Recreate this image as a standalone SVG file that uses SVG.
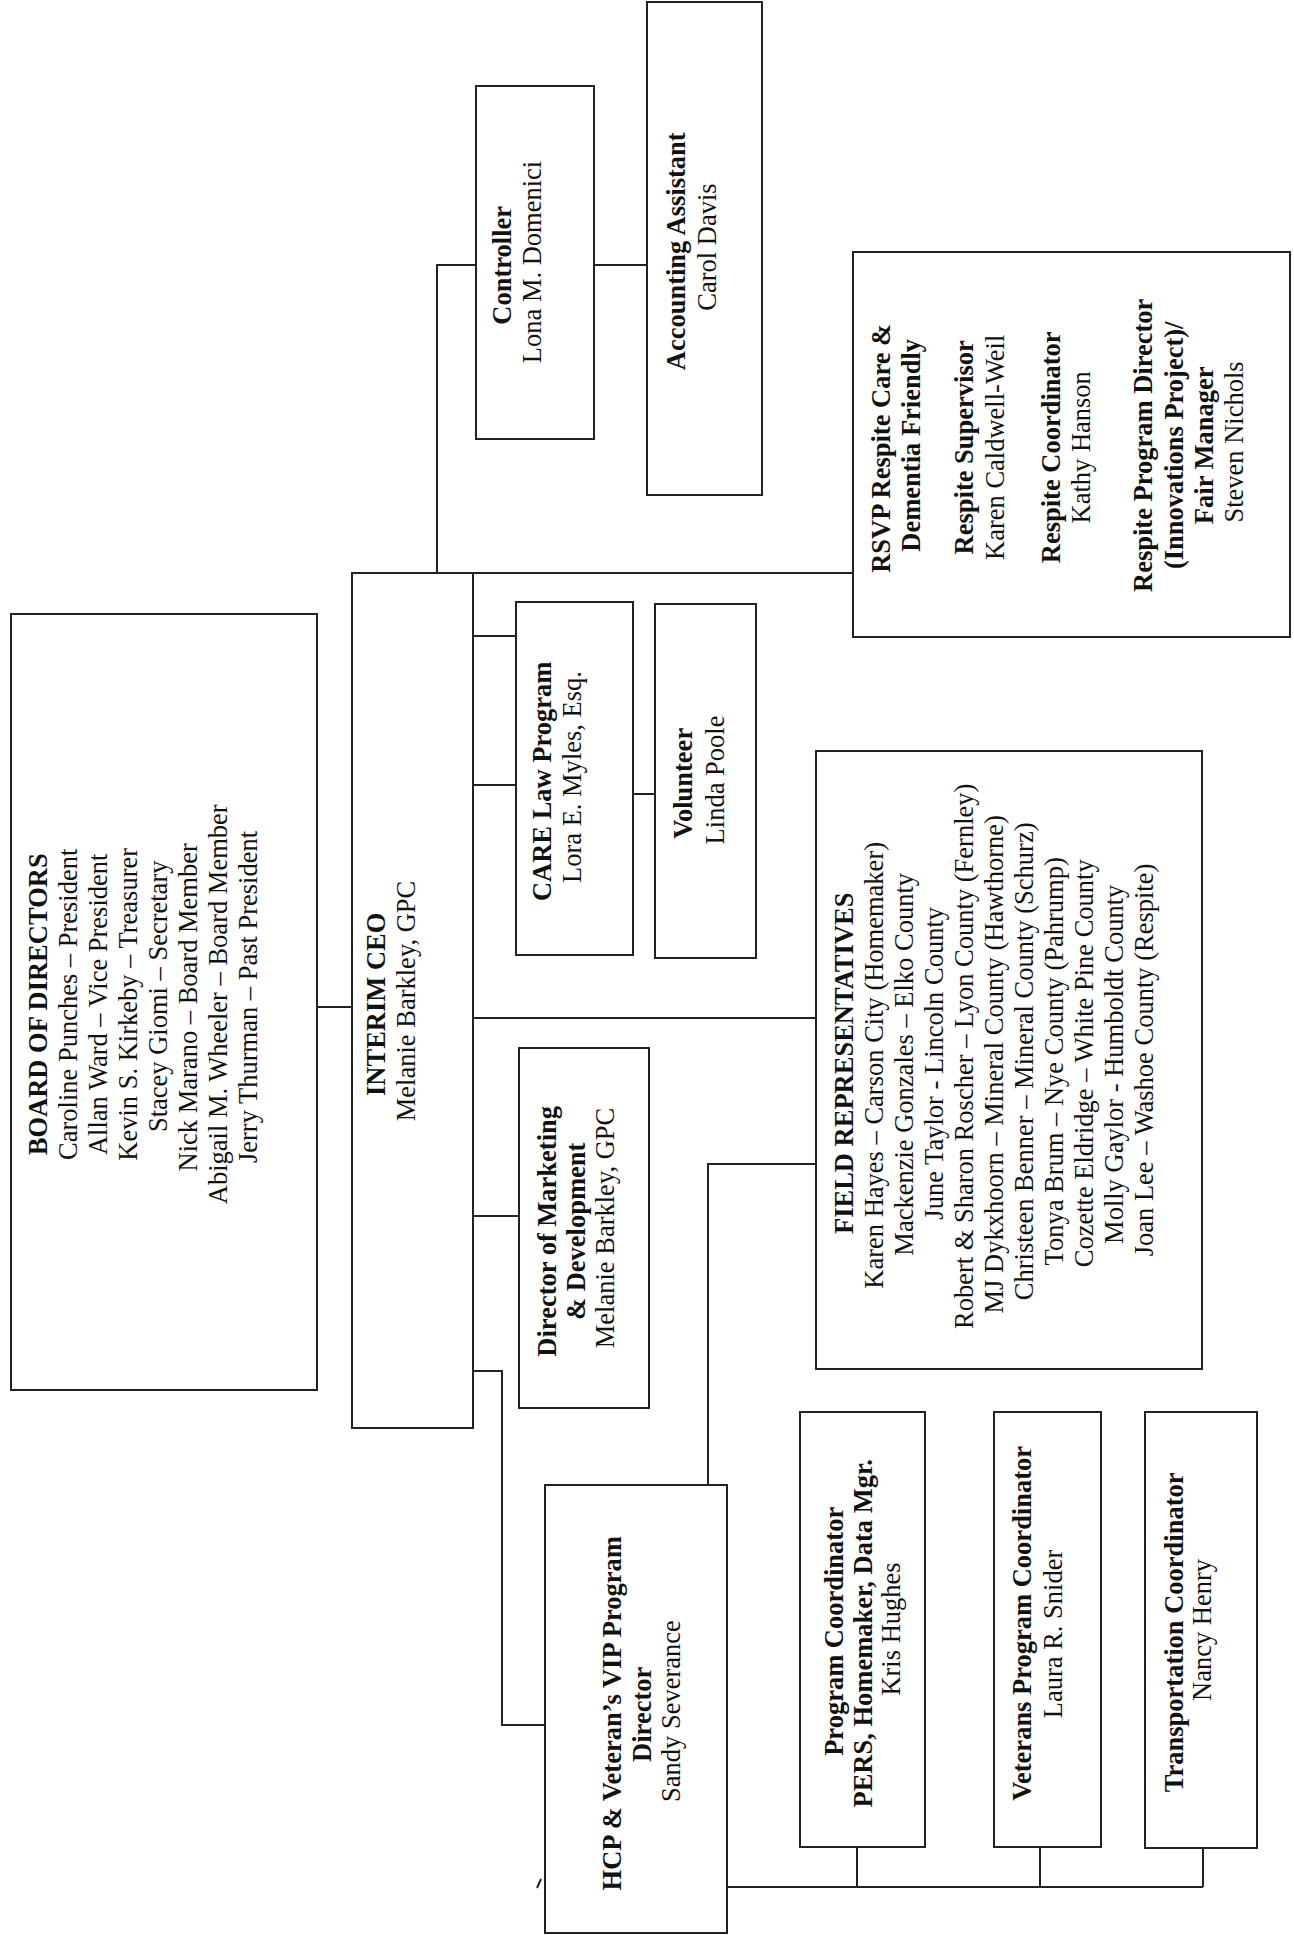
<svg xmlns="http://www.w3.org/2000/svg" width="1294" height="1935" viewBox="0 0 1294 1935">
<style>
.box{fill:#fff;stroke:#222;stroke-width:2}
.con{fill:none;stroke:#222;stroke-width:2}
text{font-family:"Liberation Serif","Times New Roman",serif;font-size:26.5px;fill:#111;text-anchor:middle}
.b{font-weight:bold}
</style>
<rect width="1294" height="1935" fill="#fff"/>
<g id="connectors">
<path class="con" d="M317 1007H352"/>
<path class="con" d="M437 573V265H476"/>
<path class="con" d="M594 265H647"/>
<path class="con" d="M473 573H853"/>
<path class="con" d="M473 636H516"/>
<path class="con" d="M473 785H516"/>
<path class="con" d="M633 794H655"/>
<path class="con" d="M473 1018H816"/>
<path class="con" d="M473 1216H519"/>
<path class="con" d="M473 1371H502V1725H545"/>
<path class="con" d="M816 1164H708V1485"/>
<path class="con" d="M727 1887H1203"/>
<path class="con" d="M857 1847V1887"/>
<path class="con" d="M1040 1847V1887"/>
<path class="con" d="M1203 1848V1887"/>
<path class="con" d="M541 1879L537 1888"/>
</g>
<g id="bod">
<rect class="box" x="11" y="614" width="306" height="776"/>
<text transform="rotate(-90)">
<tspan class="b" x="-1001" y="47">BOARD OF DIRECTORS</tspan>
<tspan x="-1001" y="77">Caroline Punches – President</tspan>
<tspan x="-1001" y="107">Allan Ward  – Vice President</tspan>
<tspan x="-1001" y="137">Kevin S. Kirkeby – Treasurer</tspan>
<tspan x="-993" y="167">Stacey Giomi  – Secretary</tspan>
<tspan x="-1004" y="197">Nick Marano – Board Member</tspan>
<tspan x="-1001" y="227">Abigail M. Wheeler – Board Member</tspan>
<tspan x="-997" y="257">Jerry Thurman – Past President</tspan>
</text>
</g>
<g id="ceo">
<rect class="box" x="352" y="573" width="121" height="855"/>
<text transform="rotate(-90)">
<tspan class="b" x="-1001" y="385">INTERIM CEO</tspan>
<tspan x="-1001" y="415">Melanie Barkley, GPC</tspan>
</text>
</g>
<g id="controller">
<rect class="box" x="476" y="86" width="118" height="353"/>
<text transform="rotate(-90)">
<tspan class="b" x="-262" y="511">Controller</tspan>
<tspan x="-262" y="541">Lona M. Domenici</tspan>
</text>
</g>
<g id="accounting">
<rect class="box" x="647" y="2" width="115" height="493"/>
<text transform="rotate(-90)">
<tspan class="b" x="-248" y="685">Accounting Assistant</tspan>
<tspan x="-247" y="716">Carol Davis</tspan>
</text>
</g>
<g id="rsvp">
<rect class="box" x="853" y="252" width="437" height="385"/>
<text transform="rotate(-90)">
<tspan class="b" x="-445" y="890">RSVP Respite Care &amp;</tspan>
<tspan class="b" x="-442" y="920">Dementia Friendly</tspan>
<tspan class="b" x="-444" y="973">Respite Supervisor</tspan>
<tspan x="-444" y="1004">Karen Caldwell-Weil</tspan>
<tspan class="b" x="-444" y="1060">Respite Coordinator</tspan>
<tspan x="-444" y="1090">Kathy Hanson</tspan>
<tspan class="b" x="-442" y="1152">Respite Program Director</tspan>
<tspan class="b" x="-442" y="1183">(Innovations Project)/</tspan>
<tspan class="b" x="-442" y="1213">Fair Manager</tspan>
<tspan x="-442" y="1243">Steven Nichols</tspan>
</text>
</g>
<g id="care">
<rect class="box" x="516" y="602" width="117" height="353"/>
<text transform="rotate(-90)">
<tspan class="b" x="-778" y="551">CARE Law Program</tspan>
<tspan x="-777" y="581">Lora E. Myles, Esq.</tspan>
</text>
</g>
<g id="volunteer">
<rect class="box" x="655" y="604" width="101" height="354"/>
<text transform="rotate(-90)">
<tspan class="b" x="-780" y="692">Volunteer</tspan>
<tspan x="-780" y="724">Linda Poole</tspan>
</text>
</g>
<g id="marketing">
<rect class="box" x="519" y="1048" width="130" height="360"/>
<text transform="rotate(-90)">
<tspan class="b" x="-1228" y="556">Director of Marketing</tspan>
<tspan class="b" x="-1228" y="585">&amp; Development</tspan>
<tspan x="-1228" y="614">Melanie Barkley, GPC</tspan>
</text>
</g>
<g id="field">
<rect class="box" x="816" y="751" width="386" height="618"/>
<text transform="rotate(-90)">
<tspan class="b" x="-1060" y="853">FIELD REPRESENTATIVES</tspan>
<tspan x="-1062" y="883">Karen Hayes – Carson City (Homemaker)</tspan>
<tspan x="-1061" y="913">Mackenzie Gonzales – Elko County</tspan>
<tspan x="-1060" y="943">June Taylor - Lincoln County</tspan>
<tspan x="-1053" y="973">Robert &amp; Sharon Roscher – Lyon County (Fernley)</tspan>
<tspan x="-1061" y="1003">MJ Dykxhoorn – Mineral County (Hawthorne)</tspan>
<tspan x="-1058" y="1033">Christeen Benner – Mineral County (Schurz)</tspan>
<tspan x="-1058" y="1063">Tonya Brum – Nye County (Pahrump)</tspan>
<tspan x="-1060" y="1093">Cozette Eldridge – White Pine County</tspan>
<tspan x="-1061" y="1123">Molly Gaylor - Humboldt County</tspan>
<tspan x="-1060" y="1153">Joan Lee – Washoe County (Respite)</tspan>
</text>
</g>
<g id="hcp">
<rect class="box" x="545" y="1485" width="182" height="448"/>
<text transform="rotate(-90)">
<tspan class="b" x="-1710" y="621">HCP &amp; Veteran’s VIP Program</tspan>
<tspan class="b" x="-1711" y="651">Director</tspan>
<tspan x="-1711" y="680">Sandy Severance</tspan>
</text>
</g>
<g id="program-coordinator">
<rect class="box" x="800" y="1412" width="125" height="435"/>
<text transform="rotate(-90)">
<tspan class="b" x="-1628" y="843">Program Coordinator</tspan>
<tspan class="b" x="-1630" y="872">PERS, Homemaker, Data Mgr.</tspan>
<tspan x="-1629" y="900">Kris Hughes</tspan>
</text>
</g>
<g id="veterans">
<rect class="box" x="994" y="1412" width="107" height="435"/>
<text transform="rotate(-90)">
<tspan class="b" x="-1620" y="1031">Veterans Program Coordinator</tspan>
<tspan x="-1634" y="1062">Laura R. Snider</tspan>
</text>
</g>
<g id="transportation">
<rect class="box" x="1145" y="1412" width="112" height="436"/>
<text transform="rotate(-90)">
<tspan class="b" x="-1629" y="1183">Transportation Coordinator</tspan>
<tspan x="-1630" y="1211">Nancy Henry</tspan>
</text>
</g>
</svg>
